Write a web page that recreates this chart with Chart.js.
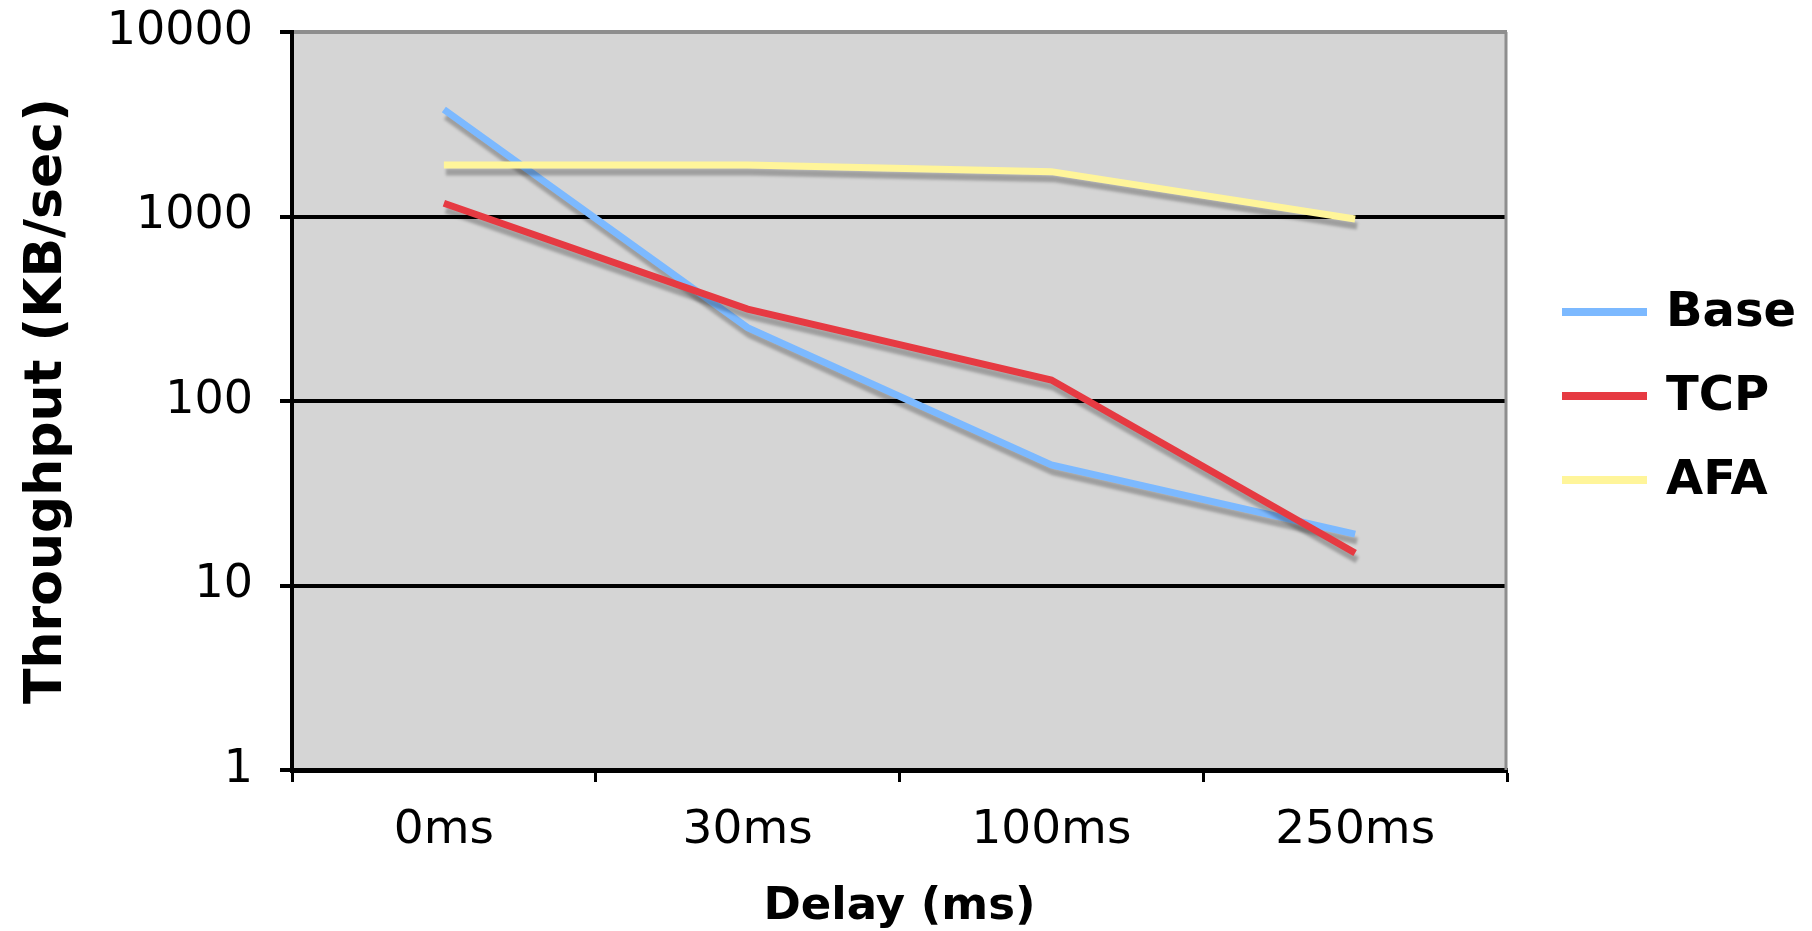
<!DOCTYPE html>
<html>
<head>
<meta charset="utf-8">
<script src="https://cdn.jsdelivr.net/npm/chart.js@4.4.1/dist/chart.umd.min.js"></script>
<style>
html,body{margin:0;padding:0;background:#fff;overflow:hidden;}
canvas{display:block;}
</style>
</head>
<body>
<canvas id="c" width="1812" height="931"></canvas>
<script>
// ---- data ----
const categories = ['0ms', '30ms', '100ms', '250ms'];
const baseValues = [3800, 250, 45, 19];
const tcpValues = [1180, 315, 130, 15];
const afaValues = [1900, 1900, 1750, 970];
const yTickValues = [1, 10, 100, 1000, 10000];
const seriesNames = ['Base', 'TCP', 'AFA'];
const seriesColors = ['#7cb9ff', '#e63a42', '#fff59a'];
const xTitle = 'Delay (ms)';
const yTitle = 'Throughput (KB/sec)';

const FONT = 'DejaVu Sans';

const bgPlugin = {
  id: 'plotBg',
  beforeDraw(chart) {
    const {ctx, chartArea: a} = chart;
    ctx.save();
    ctx.fillStyle = '#ffffff';
    ctx.fillRect(0, 0, chart.width, chart.height);
    ctx.fillStyle = '#d5d5d5';
    ctx.fillRect(a.left, a.top, a.right - a.left, a.bottom - a.top);
    ctx.restore();
  },
  beforeDatasetsDraw(chart) {
    const {ctx, chartArea: a} = chart;
    ctx.save();
    ctx.strokeStyle = '#8e8e8e';
    ctx.lineWidth = 3;
    ctx.beginPath();
    ctx.moveTo(a.right - 1, a.top);
    ctx.lineTo(a.right - 1, a.bottom);
    ctx.stroke();
    ctx.restore();
  }
};

const shadowPlugin = {
  id: 'lineShadow',
  beforeDatasetsDraw(chart) {
    const ctx = chart.ctx;
    ctx.save();
    ctx.shadowColor = 'rgba(0,0,0,0.26)';
    ctx.shadowBlur = 3;
    ctx.shadowOffsetX = 2;
    ctx.shadowOffsetY = 7;
  },
  afterDatasetsDraw(chart) {
    chart.ctx.restore();
  }
};

const legendPlugin = {
  id: 'sideLegend',
  afterDraw(chart) {
    const {ctx, chartArea: a} = chart;
    const mid = (a.top + a.bottom) / 2 - 5;
    const gap = 84;
    ctx.save();
    ctx.font = 'bold 48px "' + FONT + '"';
    ctx.textBaseline = 'middle';
    ctx.textAlign = 'left';
    chart.data.datasets.forEach((ds, i) => {
      const y = mid + (i - 1) * gap;
      ctx.fillStyle = ds.borderColor;
      ctx.fillRect(a.right + 55, y - 4, 85, 8);
      ctx.fillStyle = '#000';
      ctx.fillText(ds.label, a.right + 159, y + 2);
    });
    ctx.restore();
  }
};

const seriesData = [baseValues, tcpValues, afaValues];

new Chart(document.getElementById('c'), {
  type: 'line',
  data: {
    labels: categories,
    datasets: seriesNames.map((name, i) => ({
      label: name,
      data: seriesData[i],
      borderColor: seriesColors[i],
      backgroundColor: seriesColors[i],
      borderWidth: 7,
      pointRadius: 0,
      pointHoverRadius: 0,
      tension: 0,
      fill: false,
      order: 3 - i
    }))
  },
  options: {
    responsive: false,
    devicePixelRatio: 1,
    animation: false,
    layout: { padding: { top: 32, right: 305, bottom: 0, left: 0 } },
    plugins: {
      legend: { display: false },
      tooltip: { enabled: false },
      title: { display: false }
    },
    scales: {
      x: {
        type: 'category',
        offset: true,
        afterFit(scale) { scale.height = 161; scale.paddingLeft = 0; scale.paddingRight = 0; },
        grid: {
          display: true,
          offset: true,
          drawOnChartArea: false,
          drawTicks: true,
          tickLength: 12,
          tickColor: '#000',
          tickWidth: 3
        },
        border: { display: true, color: '#000', width: 5 },
        ticks: {
          color: '#000',
          font: { family: FONT, size: 47 },
          padding: 21,
          maxRotation: 0,
          autoSkip: false
        },
        title: {
          display: true,
          text: xTitle,
          color: '#000',
          font: { family: FONT, size: 45, weight: 'bold' },
          padding: { top: 0, bottom: -3 }
        }
      },
      y: {
        type: 'logarithmic',
        min: 1,
        max: 10000,
        afterFit(scale) { scale.width = 292; scale.paddingTop = 0; scale.paddingBottom = 0; },
        afterBuildTicks(scale) {
          scale.ticks = yTickValues.map(v => ({ value: v }));
        },
        grid: {
          color: (c) => (c.tick && c.tick.value === 10000) ? '#8e8e8e' : '#000',
          lineWidth: 4,
          drawTicks: true,
          tickLength: 12,
          tickColor: '#000',
          tickWidth: 4
        },
        border: { display: true, color: '#000', width: 4 },
        ticks: {
          color: '#000',
          font: { family: FONT, size: 46 },
          padding: 27,
          callback: (v) => yTickValues.includes(v) ? String(v) : ''
        },
        title: {
          display: true,
          text: yTitle,
          color: '#000',
          font: { family: FONT, size: 52, weight: 'bold' },
          padding: { top: 16, bottom: 0 }
        }
      }
    }
  },
  plugins: [bgPlugin, shadowPlugin, legendPlugin]
});
</script>
</body>
</html>
